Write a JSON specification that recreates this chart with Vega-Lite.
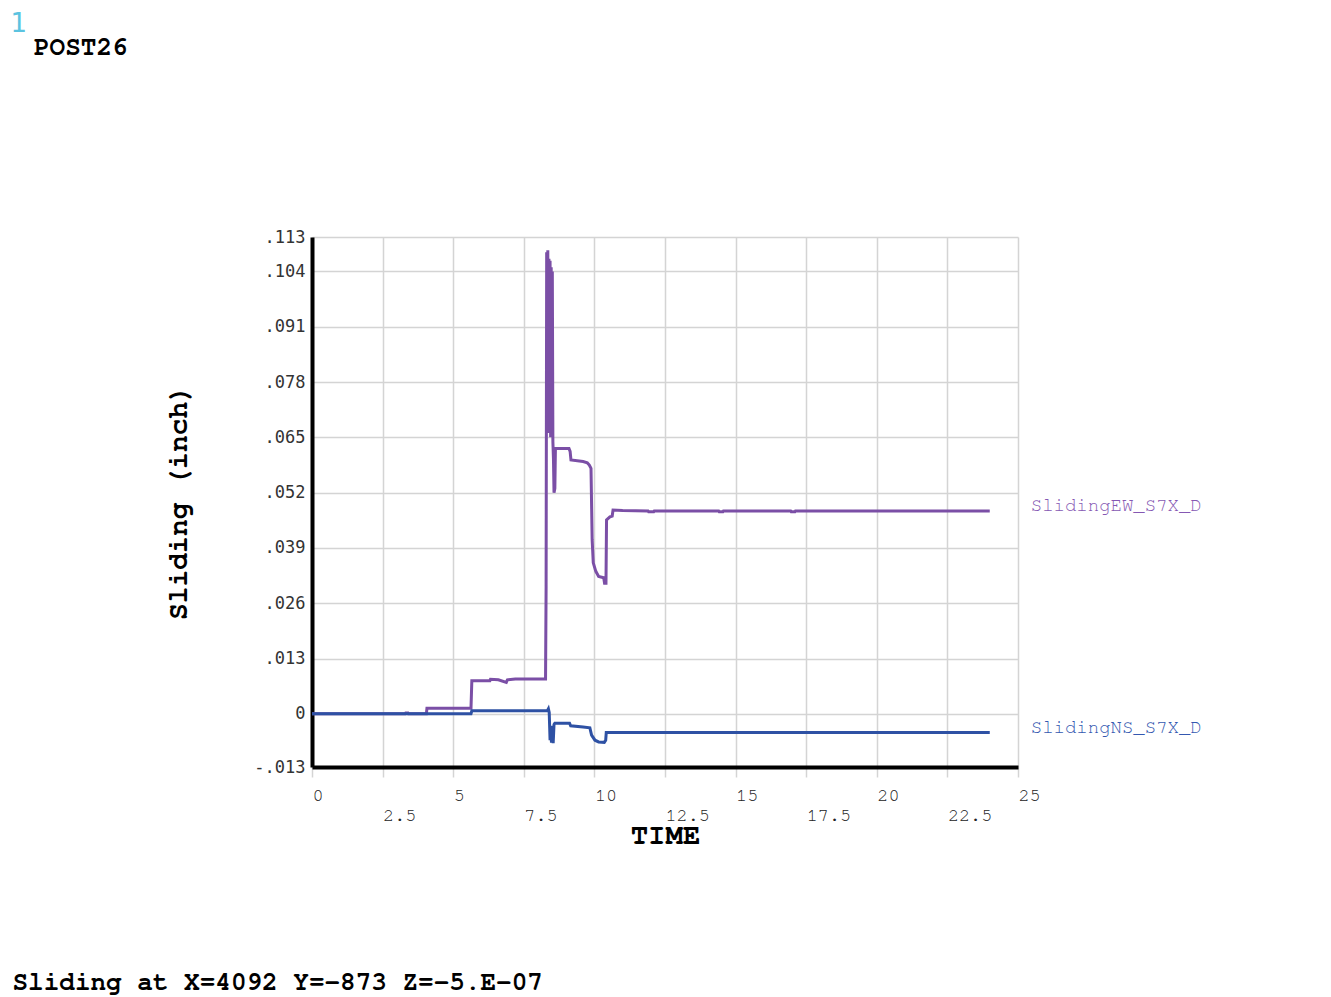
{
  "$schema": "https://vega.github.io/schema/vega-lite/v6.json",
  "width": 706,
  "height": 530,
  "autosize": "none",
  "padding": {"left": 312, "top": 237, "right": 313, "bottom": 230},
  "background": "white",
  "title": {"text": "POST26", "anchor": "start", "frame": "group", "font": "Nimbus Mono PS, FreeMono, Courier New, Liberation Mono", "fontSize": 26, "fontWeight": "bold", "color": "black", "baseline": "alphabetic", "offset": 0, "dx": -278, "dy": 71},
  "config": {"view": {"stroke": null}},
  "data": {"values": [
    {"series": "SlidingEW_S7X_D", "time": 0, "sliding": 0},
    {"series": "SlidingEW_S7X_D", "time": 3.3, "sliding": 0},
    {"series": "SlidingEW_S7X_D", "time": 3.32, "sliding": 0.0002},
    {"series": "SlidingEW_S7X_D", "time": 3.4, "sliding": 0.0002},
    {"series": "SlidingEW_S7X_D", "time": 3.42, "sliding": 0},
    {"series": "SlidingEW_S7X_D", "time": 4.05, "sliding": 0},
    {"series": "SlidingEW_S7X_D", "time": 4.07, "sliding": 0.0013},
    {"series": "SlidingEW_S7X_D", "time": 5.63, "sliding": 0.0013},
    {"series": "SlidingEW_S7X_D", "time": 5.66, "sliding": 0.0078},
    {"series": "SlidingEW_S7X_D", "time": 6.3, "sliding": 0.0078},
    {"series": "SlidingEW_S7X_D", "time": 6.32, "sliding": 0.0081},
    {"series": "SlidingEW_S7X_D", "time": 6.6, "sliding": 0.008},
    {"series": "SlidingEW_S7X_D", "time": 6.88, "sliding": 0.0074},
    {"series": "SlidingEW_S7X_D", "time": 6.92, "sliding": 0.008},
    {"series": "SlidingEW_S7X_D", "time": 7.2, "sliding": 0.0082},
    {"series": "SlidingEW_S7X_D", "time": 8.27, "sliding": 0.0082},
    {"series": "SlidingEW_S7X_D", "time": 8.29, "sliding": 0.03},
    {"series": "SlidingEW_S7X_D", "time": 8.31, "sliding": 0.1085},
    {"series": "SlidingEW_S7X_D", "time": 8.33, "sliding": 0.068},
    {"series": "SlidingEW_S7X_D", "time": 8.35, "sliding": 0.109},
    {"series": "SlidingEW_S7X_D", "time": 8.37, "sliding": 0.066},
    {"series": "SlidingEW_S7X_D", "time": 8.39, "sliding": 0.107},
    {"series": "SlidingEW_S7X_D", "time": 8.41, "sliding": 0.07},
    {"series": "SlidingEW_S7X_D", "time": 8.43, "sliding": 0.1065},
    {"series": "SlidingEW_S7X_D", "time": 8.45, "sliding": 0.065},
    {"series": "SlidingEW_S7X_D", "time": 8.47, "sliding": 0.105},
    {"series": "SlidingEW_S7X_D", "time": 8.49, "sliding": 0.068},
    {"series": "SlidingEW_S7X_D", "time": 8.51, "sliding": 0.104},
    {"series": "SlidingEW_S7X_D", "time": 8.53, "sliding": 0.064},
    {"series": "SlidingEW_S7X_D", "time": 8.55, "sliding": 0.06},
    {"series": "SlidingEW_S7X_D", "time": 8.57, "sliding": 0.052},
    {"series": "SlidingEW_S7X_D", "time": 8.6, "sliding": 0.053},
    {"series": "SlidingEW_S7X_D", "time": 8.62, "sliding": 0.0624},
    {"series": "SlidingEW_S7X_D", "time": 9.1, "sliding": 0.0624},
    {"series": "SlidingEW_S7X_D", "time": 9.14, "sliding": 0.0617},
    {"series": "SlidingEW_S7X_D", "time": 9.17, "sliding": 0.0597},
    {"series": "SlidingEW_S7X_D", "time": 9.6, "sliding": 0.0593},
    {"series": "SlidingEW_S7X_D", "time": 9.75, "sliding": 0.059},
    {"series": "SlidingEW_S7X_D", "time": 9.82, "sliding": 0.0585},
    {"series": "SlidingEW_S7X_D", "time": 9.88, "sliding": 0.0577},
    {"series": "SlidingEW_S7X_D", "time": 9.92, "sliding": 0.041},
    {"series": "SlidingEW_S7X_D", "time": 9.96, "sliding": 0.0355},
    {"series": "SlidingEW_S7X_D", "time": 10.05, "sliding": 0.0335},
    {"series": "SlidingEW_S7X_D", "time": 10.15, "sliding": 0.0323},
    {"series": "SlidingEW_S7X_D", "time": 10.33, "sliding": 0.032},
    {"series": "SlidingEW_S7X_D", "time": 10.36, "sliding": 0.0307},
    {"series": "SlidingEW_S7X_D", "time": 10.41, "sliding": 0.0307},
    {"series": "SlidingEW_S7X_D", "time": 10.43, "sliding": 0.0456},
    {"series": "SlidingEW_S7X_D", "time": 10.55, "sliding": 0.0463},
    {"series": "SlidingEW_S7X_D", "time": 10.63, "sliding": 0.0465},
    {"series": "SlidingEW_S7X_D", "time": 10.66, "sliding": 0.0479},
    {"series": "SlidingEW_S7X_D", "time": 11.0, "sliding": 0.0478},
    {"series": "SlidingEW_S7X_D", "time": 11.9, "sliding": 0.0477},
    {"series": "SlidingEW_S7X_D", "time": 11.92, "sliding": 0.0475},
    {"series": "SlidingEW_S7X_D", "time": 12.1, "sliding": 0.0475},
    {"series": "SlidingEW_S7X_D", "time": 12.12, "sliding": 0.0477},
    {"series": "SlidingEW_S7X_D", "time": 14.4, "sliding": 0.0477},
    {"series": "SlidingEW_S7X_D", "time": 14.42, "sliding": 0.0475},
    {"series": "SlidingEW_S7X_D", "time": 14.55, "sliding": 0.0475},
    {"series": "SlidingEW_S7X_D", "time": 14.57, "sliding": 0.0477},
    {"series": "SlidingEW_S7X_D", "time": 16.95, "sliding": 0.0477},
    {"series": "SlidingEW_S7X_D", "time": 16.97, "sliding": 0.0475},
    {"series": "SlidingEW_S7X_D", "time": 17.1, "sliding": 0.0475},
    {"series": "SlidingEW_S7X_D", "time": 17.12, "sliding": 0.0477},
    {"series": "SlidingEW_S7X_D", "time": 24.0, "sliding": 0.0477},
    {"series": "SlidingNS_S7X_D", "time": 0, "sliding": 0},
    {"series": "SlidingNS_S7X_D", "time": 5.63, "sliding": 0},
    {"series": "SlidingNS_S7X_D", "time": 5.66, "sliding": 0.0007},
    {"series": "SlidingNS_S7X_D", "time": 8.33, "sliding": 0.0007},
    {"series": "SlidingNS_S7X_D", "time": 8.37, "sliding": 0.0012},
    {"series": "SlidingNS_S7X_D", "time": 8.4, "sliding": 0.0003},
    {"series": "SlidingNS_S7X_D", "time": 8.43, "sliding": -0.0062},
    {"series": "SlidingNS_S7X_D", "time": 8.45, "sliding": -0.003},
    {"series": "SlidingNS_S7X_D", "time": 8.48, "sliding": -0.0068},
    {"series": "SlidingNS_S7X_D", "time": 8.51, "sliding": -0.0028},
    {"series": "SlidingNS_S7X_D", "time": 8.54, "sliding": -0.0069},
    {"series": "SlidingNS_S7X_D", "time": 8.57, "sliding": -0.0025},
    {"series": "SlidingNS_S7X_D", "time": 8.6, "sliding": -0.0022},
    {"series": "SlidingNS_S7X_D", "time": 9.12, "sliding": -0.0022},
    {"series": "SlidingNS_S7X_D", "time": 9.16, "sliding": -0.0028},
    {"series": "SlidingNS_S7X_D", "time": 9.6, "sliding": -0.0031},
    {"series": "SlidingNS_S7X_D", "time": 9.84, "sliding": -0.0033},
    {"series": "SlidingNS_S7X_D", "time": 9.9, "sliding": -0.005},
    {"series": "SlidingNS_S7X_D", "time": 10.02, "sliding": -0.0062},
    {"series": "SlidingNS_S7X_D", "time": 10.15, "sliding": -0.0066},
    {"series": "SlidingNS_S7X_D", "time": 10.35, "sliding": -0.0067},
    {"series": "SlidingNS_S7X_D", "time": 10.4, "sliding": -0.0062},
    {"series": "SlidingNS_S7X_D", "time": 10.42, "sliding": -0.0044},
    {"series": "SlidingNS_S7X_D", "time": 24.0, "sliding": -0.0044}
  ]},
  "layer": [
    {
      "transform": [{"filter": "datum.series == 'SlidingEW_S7X_D'"}],
      "encoding": {
        "x": {"field": "time", "type": "quantitative",
          "scale": {"domain": [0, 25], "nice": false, "zero": false},
          "axis": {"orient": "bottom", "title": "TIME",
            "values": [0, 2.5, 5, 7.5, 10, 12.5, 15, 17.5, 20, 22.5, 25],
            "labelExpr": "'' + datum.value",
            "grid": true, "gridColor": "#d4d4d4", "gridWidth": 1.5,
            "domain": true, "domainColor": "black", "domainWidth": 4,
            "ticks": true, "tickColor": "#d4d4d4", "tickSize": 10, "tickWidth": 1.5,
            "labelAlign": "left", "labelBaseline": "top", "labelFont": "Nimbus Mono PS, FreeMono, Liberation Mono", "labelFontSize": 18.5, "labelColor": "#222222",
            "labelPadding": {"condition": {"test": "datum.value % 5 != 0", "value": 28}, "value": 8},
            "labelFlush": false, "labelOverlap": false,
            "titleFont": "Nimbus Mono PS, FreeMono, Liberation Mono", "titleFontSize": 29, "titleFontWeight": "bold", "titleColor": "black",
            "titleX": 353, "titleY": 76, "titleAlign": "center", "titleBaseline": "alphabetic"}},
        "y": {"field": "sliding", "type": "quantitative",
          "scale": {"domain": [-0.0125, 0.1121], "nice": false, "zero": false},
          "axis": {"orient": "left", "title": "Sliding (inch)",
            "values": [-0.0125, 0, 0.013, 0.026, 0.039, 0.052, 0.065, 0.078, 0.091, 0.104, 0.1121],
            "labelExpr": "datum.value < -0.012 ? '-.013' : datum.value > 0.11 ? '.113' : datum.value == 0 ? '0' : replace(format(datum.value, '.3f'), '0.', '.')",
            "grid": true, "gridColor": "#d4d4d4", "gridWidth": 1.5,
            "domain": true, "domainColor": "black", "domainWidth": 4,
            "ticks": false,
            "labelAlign": "right", "labelBaseline": "middle", "labelFont": "DejaVu Sans Mono", "labelFontSize": 17, "labelColor": "#333333", "labelPadding": 7,
            "labelFlush": false, "labelOverlap": false,
            "titleFont": "Nimbus Mono PS, FreeMono, Liberation Mono", "titleFontSize": 28, "titleFontWeight": "bold", "titleColor": "black",
            "titleX": -126, "titleY": 265, "titleAngle": 270, "titleAlign": "center", "titleBaseline": "alphabetic"}}
      },
      "layer": [
        {"mark": {"type": "line", "color": "#7b4fa6", "strokeWidth": 3, "clip": true}},
        {"transform": [{"filter": "datum.time == 24"}],
         "mark": {"type": "text", "align": "left", "baseline": "middle", "dx": 41, "dy": -6, "font": "Nimbus Mono PS, FreeMono, Liberation Mono", "fontSize": 19, "color": "#8558b3"},
         "encoding": {"text": {"field": "series"}}}
      ]
    },
    {
      "transform": [{"filter": "datum.series == 'SlidingNS_S7X_D'"}],
      "encoding": {
        "x": {"field": "time", "type": "quantitative",
          "scale": {"domain": [0, 25], "nice": false, "zero": false},
          "axis": {"orient": "bottom", "title": "Sliding at X=4092 Y=-873 Z=-5.E-07",
            "grid": false, "domain": false, "ticks": false, "labels": false,
            "titleX": -300, "titleY": 222, "titleAlign": "left", "titleAnchor": "start", "titleBaseline": "alphabetic",
            "titleFont": "Nimbus Mono PS, FreeMono, Liberation Mono", "titleFontSize": 26, "titleFontWeight": "bold", "titleColor": "black"}},
        "y": {"field": "sliding", "type": "quantitative",
          "scale": {"domain": [-0.0125, 0.1121], "nice": false, "zero": false},
          "axis": {"orient": "left", "title": "1",
            "grid": false, "domain": false, "ticks": false, "labels": false,
            "titleAngle": 0, "titleX": -302, "titleY": -206, "titleAlign": "left", "titleBaseline": "alphabetic",
            "titleFont": "DejaVu Sans", "titleFontSize": 26, "titleFontWeight": "normal", "titleColor": "#5bc3e0"}}
      },
      "layer": [
        {"mark": {"type": "line", "color": "#2e51a4", "strokeWidth": 3, "clip": true}},
        {"transform": [{"filter": "datum.time == 24"}],
         "mark": {"type": "text", "align": "left", "baseline": "middle", "dx": 41, "dy": -6, "font": "Nimbus Mono PS, FreeMono, Liberation Mono", "fontSize": 19, "color": "#3458b0"},
         "encoding": {"text": {"field": "series"}}}
      ]
    }
  ],
  "resolve": {"axis": {"x": "independent", "y": "independent"}}
}
